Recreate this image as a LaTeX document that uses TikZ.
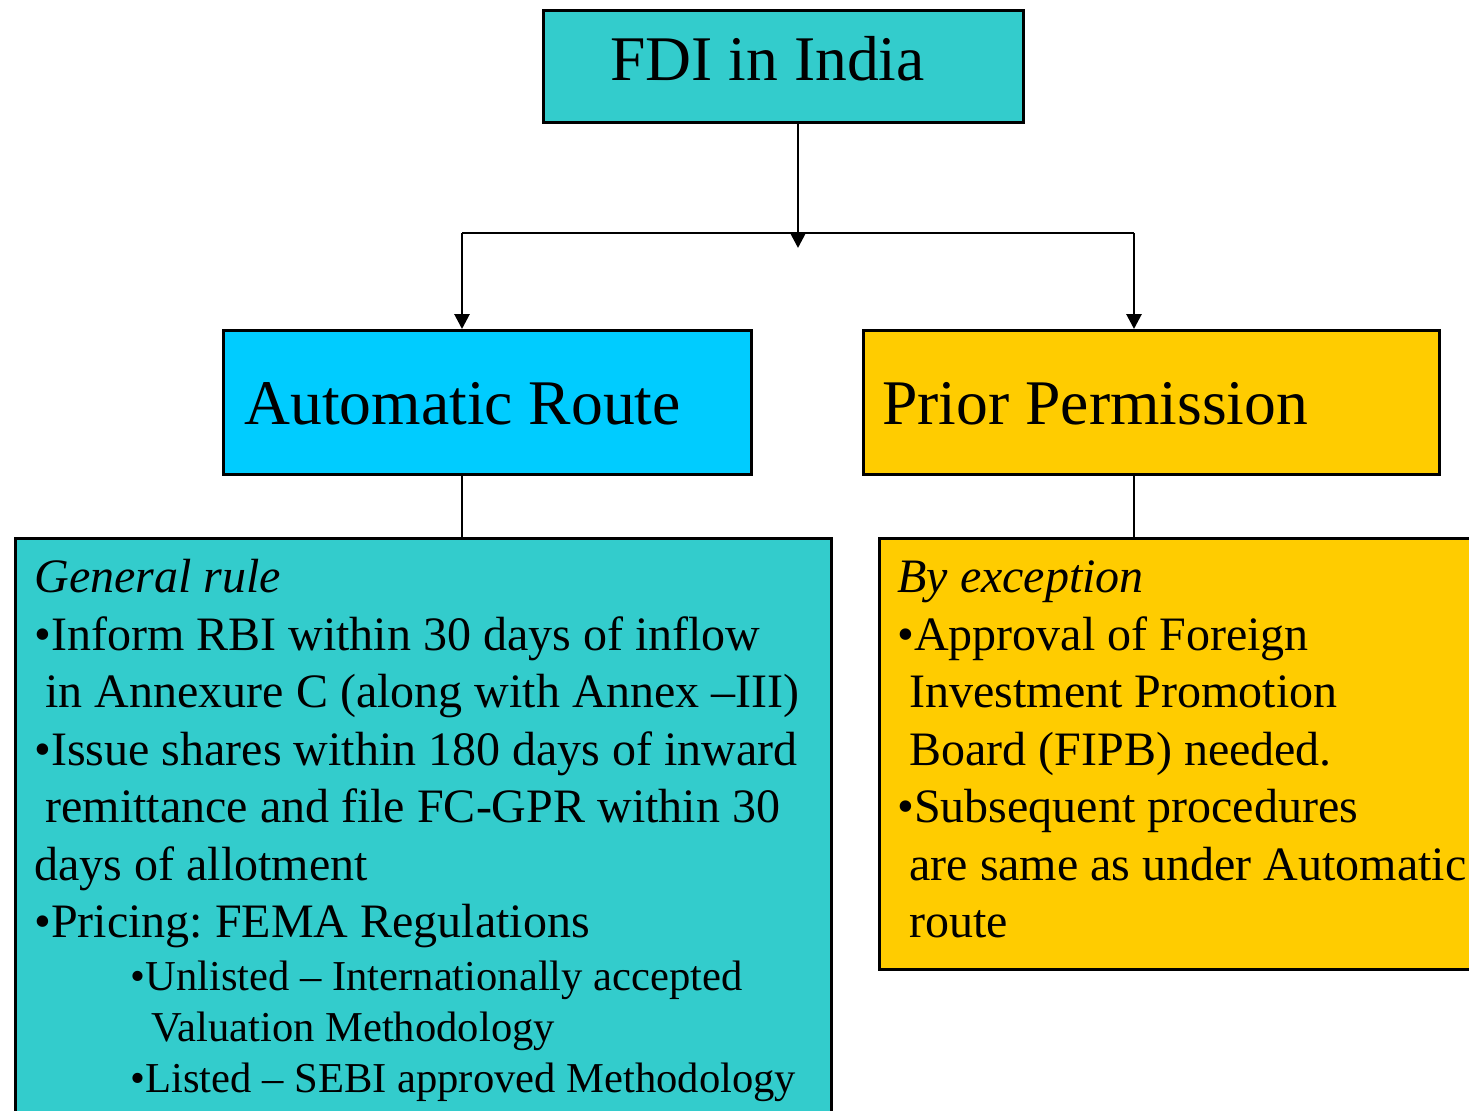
\documentclass[tikz,border=0pt]{standalone}
\usepackage{fontspec}
\setmainfont{Liberation Serif}
\usetikzlibrary{arrows.meta}
\definecolor{tealbox}{HTML}{33CCCC}
\definecolor{cyanbox}{HTML}{00CCFF}
\definecolor{goldbox}{HTML}{FFCC00}
\frenchspacing
\begin{document}
\begin{tikzpicture}[x=0.5pt,y=-0.5pt,
  box/.style={draw=black,line width=1.4pt,inner sep=0pt,anchor=north west},
  title/.style={anchor=base west,inner sep=0pt,font=\fontsize{31.8}{38}\selectfont},
  body/.style={anchor=base west,inner sep=0pt,font=\fontsize{24}{29}\selectfont},
  sub/.style={anchor=base west,inner sep=0pt,font=\fontsize{21.3}{25.5}\selectfont},
  link/.style={line width=1.4pt},
  arrowlink/.style={line width=1.4pt,-{Triangle[length=7.5pt,width=7.5pt]}}]
\useasboundingbox (0,0) rectangle (1469,1110);
\clip (0,0) rectangle (1469,1110);

% boxes
\node[box,fill=tealbox,minimum width=240pt,minimum height=56pt] (fdi) at (542,9) {};
\node[box,fill=cyanbox,minimum width=264pt,minimum height=72pt] (auto) at (222,329) {};
\node[box,fill=goldbox,minimum width=288pt,minimum height=72pt] (prior) at (862,329) {};
\node[box,fill=tealbox,minimum width=408pt,minimum height=300pt] (general) at (14,537) {};
\node[box,fill=goldbox,minimum width=310pt,minimum height=215.5pt] (except) at (878,537) {};

% titles
\node[title] (tfdi) at (610,80) {FDI in India};
\node[title] (tauto) at (244,424) {Automatic Route};
\node[title] (tprior) at (882,424) {Prior Permission};

% connectors
\coordinate (hub) at (798,248);
\coordinate (jl) at (462,233);
\coordinate (jr) at (1134,233);
\draw[arrowlink] (fdi.south -| hub) -- (hub);
\draw[link] (jl) -- (jr);
\draw[arrowlink] (jl) -- (jl |- auto.north);
\draw[arrowlink] (jr) -- (jr |- prior.north);
\draw[link] (jl |- auto.south) -- (jl |- general.north);
\draw[link] (jr |- prior.south) -- (jr |- except.north);

% general rule
\node[body] (g1) at (34,592) {\itshape General rule};
\node[body] (g2) at (34,650) {•Inform RBI within 30 days of inflow};
\node[body] (g3) at (45,707) {in Annexure C (along with Annex –III)};
\node[body] (g4) at (34,765) {•Issue shares within 180 days of inward};
\node[body] (g5) at (45,822) {remittance and file FC-GPR within 30};
\node[body] (g6) at (34,880) {days of allotment};
\node[body] (g7) at (34,937) {•Pricing: FEMA Regulations};
\node[sub] (g8) at (130,990) {•Unlisted – Internationally accepted};
\node[sub] (g9) at (151,1041) {Valuation Methodology};
\node[sub] (g10) at (130,1092) {•Listed – SEBI approved Methodology};

% exception
\node[body] (e1) at (897,592) {\itshape By exception};
\node[body] (e2) at (897,650) {•Approval of Foreign};
\node[body] (e3) at (909,707) {Investment Promotion};
\node[body] (e4) at (909,765) {Board (FIPB) needed.};
\node[body] (e5) at (897,822) {•Subsequent procedures};
\node[body] (e6) at (909,880) {are same as under Automatic};
\node[body] (e7) at (909,937) {route};
\end{tikzpicture}
\end{document}
